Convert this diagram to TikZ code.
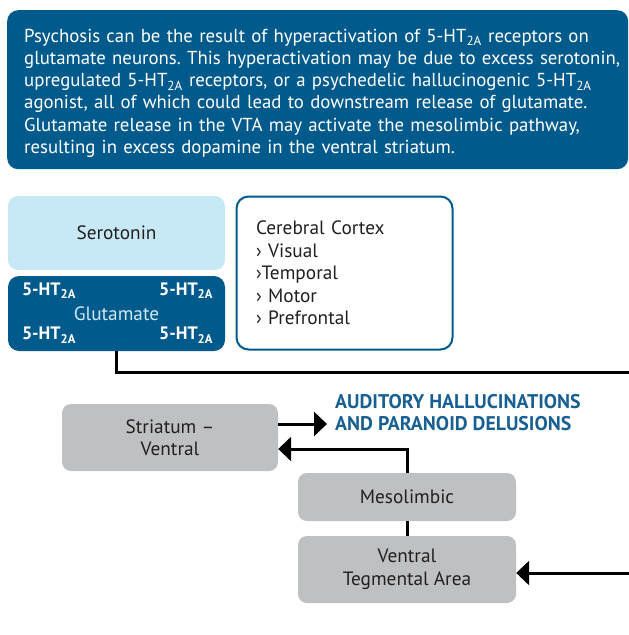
\documentclass[tikz,border=0pt]{standalone}
\usepackage{fontspec}
\setmainfont{PT Sans}
\usetikzlibrary{arrows.meta, positioning}
\definecolor{mynavy}{RGB}{0,90,140}
\definecolor{myblue}{RGB}{24,96,146}
\definecolor{mysky}{RGB}{199,233,246}
\definecolor{mypale}{RGB}{208,232,245}
\definecolor{mygrey}{RGB}{191,192,194}
\definecolor{mydark}{RGB}{35,31,32}
\newcommand{\htra}{5-HT\textsubscript{2A}}
\frenchspacing
\tikzset{
  txt/.style={font=\fontsize{19.3}{22.5}\selectfont},
  greybox/.style={rectangle, fill=mygrey, text=mydark, align=center,
    minimum width=218pt, rounded corners=9pt, txt},
  skybox/.style={rectangle, fill=mysky, text=mydark, align=center,
    minimum width=217pt, rounded corners=10pt, txt},
  navybox/.style={rectangle, fill=mynavy, text=white,
    rounded corners=11pt, txt},
  htlabel/.style={text=white, inner sep=0pt, font=\fontsize{18}{20}\selectfont\bfseries},
  arrow/.style={-{Triangle[length=13pt,width=24pt]}, line width=3pt, color=black},
  line/.style={line width=3pt, color=black}
}

\begin{document}
\begin{tikzpicture}[x=1pt, y=-1pt]
  \useasboundingbox (0,0) rectangle (629,635);
  \clip (0,0) rectangle (629,635);

  % summary at the top
  \node[navybox, anchor=north west, minimum width=621pt, minimum height=159pt] (summary) at (7,10) {};
  \node[anchor=west, text=white, text width=606pt, inner sep=0pt, align=left,
    font=\fontsize{18.8}{22.2}\selectfont] (summarytext) at ([xshift=17pt,yshift=-3.5pt]summary.west)
    {Psychosis can be the result of hyperactivation of \htra{} receptors on\\
     glutamate neurons. This hyperactivation may be due to excess serotonin,\\
     upregulated \htra{} receptors, or a psychedelic hallucinogenic \htra\\
     agonist, all of which could lead to downstream release of glutamate.\\
     Glutamate release in the VTA may activate the mesolimbic pathway,\\
     resulting in excess dopamine in the ventral striatum.};

  % cortex side
  \node[skybox, minimum height=74pt] (sero) at (116.5,233) {Serotonin};
  \node[navybox, text=mypale, minimum width=217pt, minimum height=75pt] (glut) at (116.5,313.5) {Glutamate};
  \node[htlabel, anchor=north west] (ht1) at ([shift={(14pt,-7pt)}]glut.north west) {\htra};
  \node[htlabel, anchor=north east] (ht2) at ([shift={(-12pt,-7pt)}]glut.north east) {\htra};
  \node[htlabel, anchor=south west] (ht3) at ([shift={(14pt,8pt)}]glut.south west) {\htra};
  \node[htlabel, anchor=south east] (ht4) at ([shift={(-12pt,8pt)}]glut.south east) {\htra};
  \node[rectangle, draw=mynavy, line width=2pt, fill=white, text=mydark,
    rounded corners=12pt, minimum width=216pt, minimum height=153pt,
    text width=177pt, align=left, txt] (cortex) at (344.5,273)
    {Cerebral Cortex\\ › Visual\\ ›Temporal\\ › Motor\\ › Prefrontal};

  % mesolimbic side
  \node[greybox, minimum width=216pt, minimum height=67pt] (stri) at (170,437.5) {Striatum –\\Ventral};
  \node[greybox, minimum height=48pt] (meso) at (407,497) {Mesolimbic};
  \node[greybox, minimum height=67pt] (vta) at (407,569.5) {Ventral\\Tegmental Area};
  \node[anchor=west, text=myblue, align=left, inner sep=0pt,
    font=\fontsize{19.8}{22}\selectfont\bfseries] (effect) at (335,413)
    {AUDITORY HALLUCINATIONS\\AND PARANOID DELUSIONS};

  \coordinate (bend) at (660,372);

  \draw[arrow] ([yshift=13.5pt]stri.east) -- ([yshift=13.5pt,xshift=-8pt]stri.east -| effect.west);
  \draw[arrow] (meso.north) |- ([yshift=-11.5pt]stri.east);
  \draw[line] (meso) -- (vta);
  \draw[arrow] (glut.south) |- (bend) |- ([yshift=-3.5pt]vta.east);
\end{tikzpicture}
\end{document}
